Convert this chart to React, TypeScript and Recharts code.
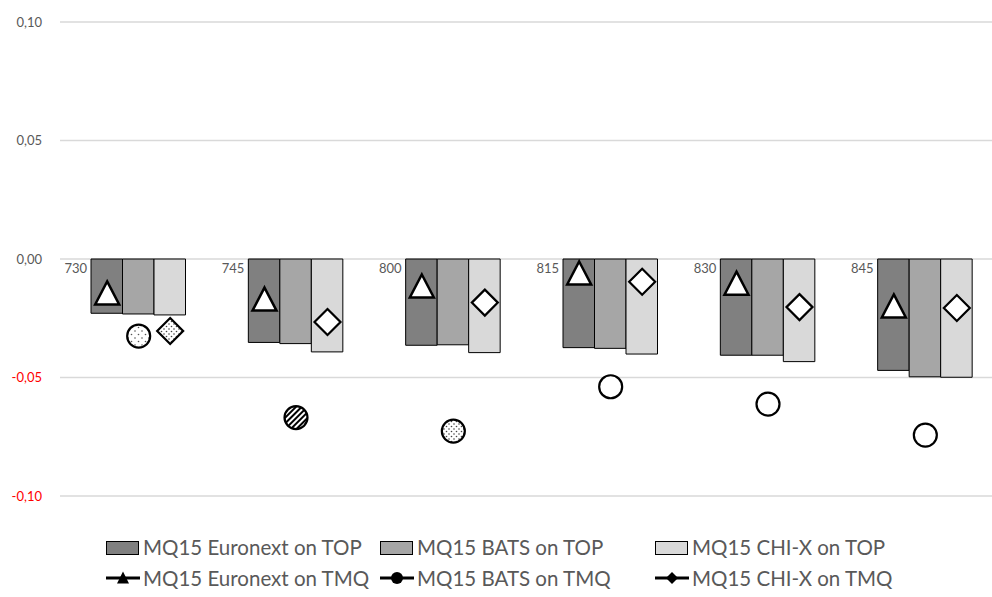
import React from "react";
import { ComposedChart, Bar, Line, YAxis, XAxis, CartesianGrid, LabelList } from "recharts";

const categories = ["730", "745", "800", "815", "830", "845"];
const euronextTop = [-0.0229, -0.0352, -0.0364, -0.0374, -0.0406, -0.047];
const batsTop = [-0.0232, -0.0357, -0.0362, -0.0377, -0.0406, -0.0497];
const chixTop = [-0.0236, -0.0392, -0.0395, -0.0401, -0.0433, -0.0499];
const euronextTmq = [-0.0143, -0.0169, -0.0114, -0.0059, -0.0102, -0.0198];
const batsTmq = [-0.0325, -0.0669, -0.0726, -0.0539, -0.0612, -0.0743];
const chixTmq = [-0.0304, -0.0266, -0.0184, -0.0096, -0.0203, -0.0207];
const yTicks = [-0.1, -0.05, 0, 0.05, 0.1];

// a few markers in the original carry a fill pattern
const batsFill: Record<string, string> = { "730": "url(#dotsSparse)", "745": "url(#hatch)", "800": "url(#dotsDense)" };
const chixFill: Record<string, string> = { "730": "url(#dotsDense)" };

const data = categories.map((cat, i) => ({
  cat,
  eTop: euronextTop[i],
  bTop: batsTop[i],
  cTop: chixTop[i],
  eTmq: euronextTmq[i],
  bTmq: batsTmq[i],
  cTmq: chixTmq[i],
}));

const BAR_W = 31.5;
const FONT = "Lato, 'Open Sans', sans-serif";
const TEXT = "#595959";

function fmt(v: number) {
  return v.toFixed(2).replace(".", ",");
}

// eslint-disable-next-line @typescript-eslint/no-explicit-any
function YTick({ x, y, payload }: any) {
  const v = payload.value as number;
  return (
    <text x={x} y={y} dy={4.5} textAnchor="end" fontSize={13} fill={v < 0 ? "#ff0000" : TEXT}>
      {fmt(v)}
    </text>
  );
}

// eslint-disable-next-line @typescript-eslint/no-explicit-any
function CatLabel({ x, y, height, value }: any) {
  const top = Math.min(y, y + height);
  return (
    <text x={x - 4} y={top + 14} textAnchor="end" fontSize={13} fill={TEXT}>
      {value}
    </text>
  );
}

// eslint-disable-next-line @typescript-eslint/no-explicit-any
function triangleDot(props: any) {
  const { cx, cy, index } = props;
  const x = cx - BAR_W;
  return (
    <polygon
      key={`t${index}`}
      points={`${x},${cy - 11.5} ${x + 12},${cy + 11.5} ${x - 12},${cy + 11.5}`}
      fill="#fff"
      stroke="#000"
      strokeWidth={2.5}
    />
  );
}

// eslint-disable-next-line @typescript-eslint/no-explicit-any
function circleDot(props: any) {
  const { cx, cy, index, payload } = props;
  return (
    <circle key={`c${index}`} cx={cx} cy={cy} r={11.5} fill={batsFill[payload.cat] ?? "#fff"} stroke="#000" strokeWidth={2.2} />
  );
}

// eslint-disable-next-line @typescript-eslint/no-explicit-any
function diamondDot(props: any) {
  const { cx, cy, index, payload } = props;
  const x = cx + BAR_W;
  const r = 13;
  return (
    <polygon
      key={`d${index}`}
      points={`${x},${cy - r} ${x + r},${cy} ${x},${cy + r} ${x - r},${cy}`}
      fill={chixFill[payload.cat] ?? "#fff"}
      stroke="#000"
      strokeWidth={2.2}
    />
  );
}

const legendCols = [106, 380, 655];
const topItems = [
  { name: "MQ15 Euronext on TOP", color: "#808080" },
  { name: "MQ15 BATS on TOP", color: "#a6a6a6" },
  { name: "MQ15 CHI-X on TOP", color: "#d9d9d9" },
];
const tmqItems = ["MQ15 Euronext on TMQ", "MQ15 BATS on TMQ", "MQ15 CHI-X on TMQ"];

function LegendSymbol({ kind }: { kind: number }) {
  return (
    <svg width={34} height={16} style={{ position: "absolute", left: 0, top: 0 }}>
      <line x1={0} y1={8} x2={34} y2={8} stroke="#000" strokeWidth={3} />
      {kind === 0 && <polygon points="17,1.5 23,13.5 11,13.5" fill="#000" />}
      {kind === 1 && <circle cx={17} cy={8} r={6} fill="#000" />}
      {kind === 2 && <polygon points="17,2 23,8 17,14 11,8" fill="#000" />}
    </svg>
  );
}

function ChartLegend() {
  return (
    <div style={{ position: "absolute", left: 0, top: 530, width: 992, height: 64, fontFamily: FONT, color: TEXT, fontSize: 20.5 }}>
      {topItems.map((it, i) => (
        <div key={it.name} style={{ position: "absolute", left: legendCols[i], top: 0 }}>
          <div
            style={{
              position: "absolute",
              left: 0,
              top: 11,
              width: 31,
              height: 12,
              background: it.color,
              border: "1px solid #000",
            }}
          />
          <span style={{ position: "absolute", left: 37, top: 4, whiteSpace: "nowrap", lineHeight: "26px" }}>{it.name}</span>
        </div>
      ))}
      {tmqItems.map((name, i) => (
        <div key={name} style={{ position: "absolute", left: legendCols[i], top: 40 }}>
          <div style={{ position: "absolute", left: 0, top: 0 }}>
            <LegendSymbol kind={i} />
          </div>
          <span style={{ position: "absolute", left: 37, top: -5, whiteSpace: "nowrap", lineHeight: "26px" }}>{name}</span>
        </div>
      ))}
    </div>
  );
}

export default function App() {
  return (
    <div
      style={{
        position: "absolute",
        left: 0,
        top: 0,
        width: 992,
        height: 597,
        overflow: "hidden",
        background: "#fff",
        fontFamily: FONT,
      }}
    >
      <ComposedChart
        width={1010}
        height={597}
        data={data}
        margin={{ top: 22, right: 6, bottom: 101, left: 0 }}
        barGap={0}
        style={{ fontFamily: FONT }}
      >
        <defs>
          <pattern id="dotsSparse" width={7} height={7} patternUnits="userSpaceOnUse">
            <rect width={7} height={7} fill="#fff" />
            <circle cx={2} cy={2} r={0.8} fill="#555" />
            <circle cx={5.5} cy={5.5} r={0.8} fill="#555" />
          </pattern>
          <pattern id="dotsDense" width={5} height={5} patternUnits="userSpaceOnUse">
            <rect width={5} height={5} fill="#fff" />
            <circle cx={1.5} cy={1.5} r={0.8} fill="#444" />
            <circle cx={4} cy={4} r={0.8} fill="#444" />
          </pattern>
          <pattern id="hatch" width={4} height={4} patternUnits="userSpaceOnUse" patternTransform="rotate(45)">
            <rect width={4} height={4} fill="#fff" />
            <rect width={2} height={4} fill="#000" />
          </pattern>
        </defs>
        <CartesianGrid vertical={false} stroke="#d9d9d9" strokeWidth={1.3} />
        <XAxis dataKey="cat" hide />
        <YAxis
          domain={[-0.1, 0.1]}
          ticks={yTicks}
          width={60}
          axisLine={false}
          tickLine={false}
          tickSize={0}
          tickMargin={18}
          tick={<YTick />}
          interval={0}
        />
        <Bar dataKey="eTop" fill="#808080" stroke="#000" strokeWidth={1} barSize={BAR_W} isAnimationActive={false}>
          <LabelList dataKey="cat" content={<CatLabel />} />
        </Bar>
        <Bar dataKey="bTop" fill="#a6a6a6" stroke="#000" strokeWidth={1} barSize={BAR_W} isAnimationActive={false} />
        <Bar dataKey="cTop" fill="#d9d9d9" stroke="#000" strokeWidth={1} barSize={BAR_W} isAnimationActive={false} />
        <Line dataKey="eTmq" stroke="none" dot={triangleDot} activeDot={false} isAnimationActive={false} />
        <Line dataKey="bTmq" stroke="none" dot={circleDot} activeDot={false} isAnimationActive={false} />
        <Line dataKey="cTmq" stroke="none" dot={diamondDot} activeDot={false} isAnimationActive={false} />
      </ComposedChart>
      <ChartLegend />
    </div>
  );
}
